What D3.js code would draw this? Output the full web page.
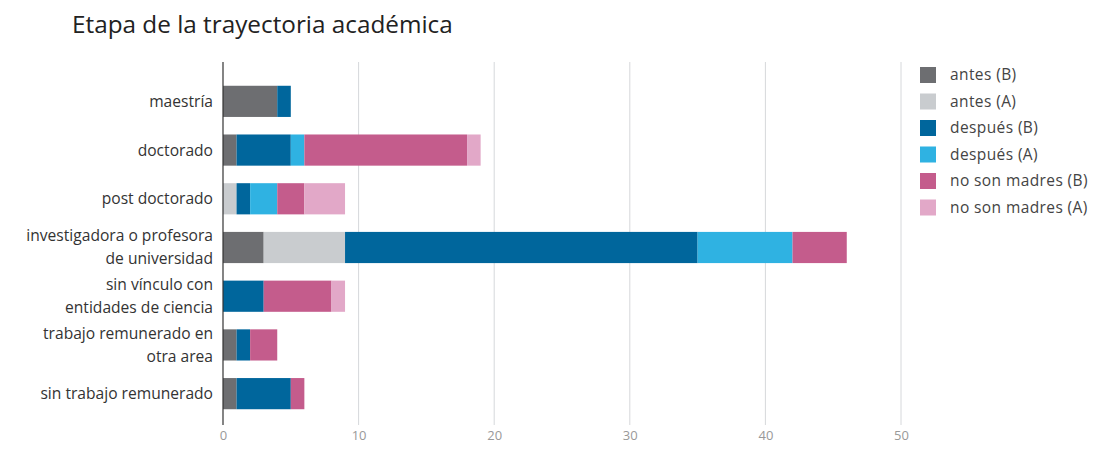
<!DOCTYPE html>
<html>
<head>
<meta charset="utf-8">
<script src="https://cdn.jsdelivr.net/npm/d3@7"></script>
<style>
  body { margin: 0; background: #fff; font-family: "Open Sans", sans-serif; }
  .tick text { font-family: "Open Sans", sans-serif; }
</style>
</head>
<body>
<script>
// categories (top to bottom), with line breaks
const categories = [
  "maestría",
  "doctorado",
  "post doctorado",
  "investigadora o profesora\nde universidad",
  "sin vínculo con\nentidades de ciencia",
  "trabajo remunerado en\notra area",
  "sin trabajo remunerado"
];

// series in stacking order
const seriesNames = ["antes (B)", "antes (A)", "después (B)", "después (A)", "no son madres (B)", "no son madres (A)"];
const seriesColors = ["#6d6e71", "#c9cccf", "#00669c", "#2fb2e2", "#c45c8c", "#e2a8c8"];

// values per series, one per category
const antesB     = [4, 1, 0, 3, 0, 1, 1];
const antesA     = [0, 0, 1, 6, 0, 0, 0];
const despuesB   = [1, 4, 1, 26, 3, 1, 4];
const despuesA   = [0, 1, 2, 7, 0, 0, 0];
const noMadresB  = [0, 12, 2, 4, 5, 2, 1];
const noMadresA  = [0, 1, 3, 0, 1, 0, 0];

const xTicks = [0, 10, 20, 30, 40, 50];

const width = 1100, height = 449;
const svg = d3.select("body").append("svg")
  .attr("width", width)
  .attr("height", height);

// title
svg.append("text")
  .attr("x", 72)
  .attr("y", 33)
  .attr("font-size", 24.3)
  .attr("fill", "#222")
  .text("Etapa de la trayectoria académica");

const seriesVals = [antesB, antesA, despuesB, despuesA, noMadresB, noMadresA];
const rows = categories.map((c, i) => {
  const r = { cat: c };
  seriesNames.forEach((s, j) => r[s] = seriesVals[j][i]);
  return r;
});
const stack = d3.stack().keys(seriesNames)(rows);

const x = d3.scaleLinear().domain([0, 50]).range([223, 901]);
const y = d3.scaleBand().domain(categories).range([77, 418]).paddingInner(0.36).paddingOuter(0.18);

// grid lines
svg.append("g")
  .selectAll("line")
  .data(xTicks.slice(1))
  .join("line")
  .attr("x1", d => x(d)).attr("x2", d => x(d))
  .attr("y1", 62).attr("y2", 425)
  .attr("stroke", "#d6d8db")
  .attr("stroke-width", 1);

// bars
svg.append("g")
  .selectAll("g")
  .data(stack)
  .join("g")
  .attr("fill", (d, i) => seriesColors[i])
  .selectAll("rect")
  .data(d => d)
  .join("rect")
  .attr("x", d => x(d[0]))
  .attr("y", d => y(d.data.cat))
  .attr("width", d => x(d[1]) - x(d[0]))
  .attr("height", y.bandwidth());

// axis line
svg.append("line")
  .attr("x1", 223).attr("x2", 223)
  .attr("y1", 62).attr("y2", 425)
  .attr("stroke", "#333")
  .attr("stroke-width", 1.2);

// x tick labels
const xAxis = svg.append("g")
  .attr("transform", "translate(0,425)")
  .call(d3.axisBottom(x).tickValues(xTicks).tickSize(0).tickPadding(6));
xAxis.select(".domain").remove();
xAxis.selectAll("text").attr("font-size", 13).attr("fill", "#999");

// category labels, one text per line
const lineGap = 23;
const labelLines = [];
categories.forEach(c => {
  const parts = c.split("\n");
  const mid = y(c) + y.bandwidth() / 2;
  parts.forEach((p, i) => {
    labelLines.push({ text: p, cy: mid + (i - (parts.length - 1) / 2) * lineGap });
  });
});
svg.append("g")
  .selectAll("text")
  .data(labelLines)
  .join("text")
  .attr("x", 213)
  .attr("y", d => d.cy)
  .attr("dy", "0.35em")
  .attr("text-anchor", "end")
  .attr("font-size", 15.6)
  .attr("fill", "#333")
  .text(d => d.text);

// legend
const legend = svg.append("g")
  .attr("transform", "translate(920,67)")
  .selectAll("g")
  .data(seriesNames)
  .join("g")
  .attr("transform", (d, i) => `translate(0,${i * 26.5})`);
legend.append("rect")
  .attr("width", 16).attr("height", 16)
  .attr("fill", (d, i) => seriesColors[i]);
legend.append("text")
  .attr("x", 30).attr("y", 8)
  .attr("dy", "0.35em")
  .attr("font-size", 15.5)
  .attr("letter-spacing", 0.4)
  .attr("fill", "#444")
  .text(d => d);
</script>
</body>
</html>
